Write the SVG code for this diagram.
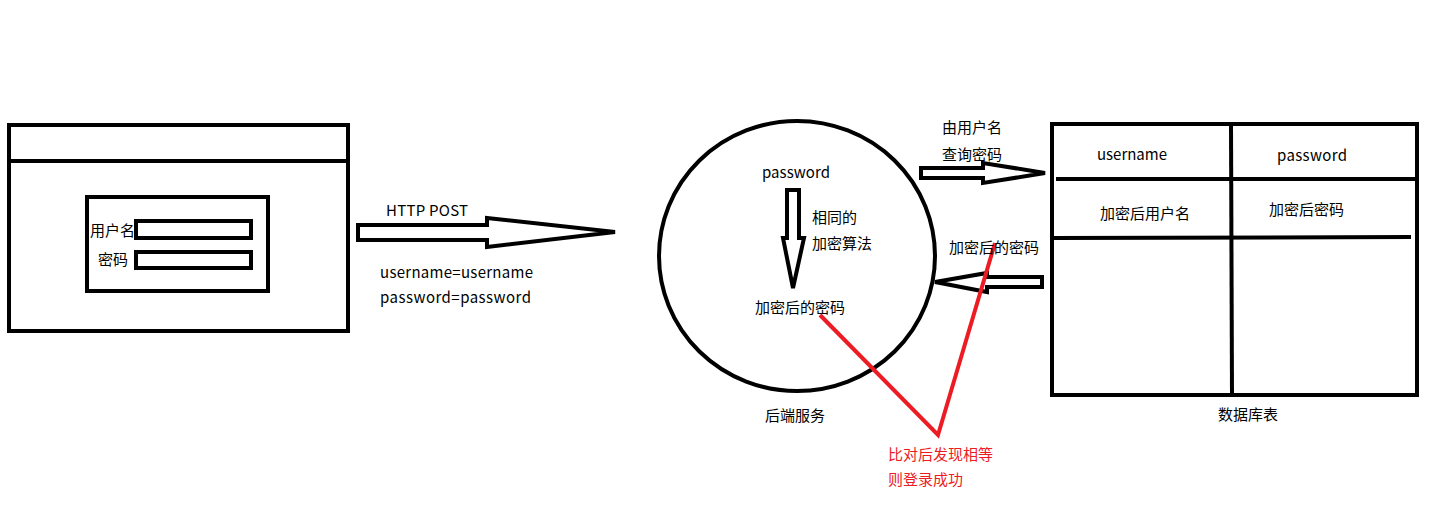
<svg xmlns="http://www.w3.org/2000/svg" width="1455" height="510" viewBox="0 0 1455 510">
<style>
.s{fill:none;stroke:#000;stroke-width:4}
.a{fill:#fff;stroke:#000;stroke-width:4;stroke-linejoin:miter}
.t{font-family:"Noto Sans CJK SC","Microsoft YaHei","Noto Sans",sans-serif;font-size:15px;fill:#000}
.r{fill:#ed1c24}
.rl{fill:none;stroke:#ed1c24;stroke-width:4;stroke-linejoin:miter}
</style>
<rect width="1455" height="510" fill="#fff"/>
<g id="login-window">
<rect class="s" x="9" y="125" width="339" height="206"/>
<line class="s" x1="9" y1="161" x2="348" y2="161"/>
<rect class="s" x="87" y="197" width="181" height="94"/>
<rect class="s" x="136" y="221" width="115" height="17"/>
<rect class="s" x="136" y="252" width="115" height="16"/>
<text class="t" x="90" y="236">用户名</text>
<text class="t" x="98" y="265">密码</text>
</g>
<g id="backend">
<ellipse class="s" cx="797" cy="256" rx="138" ry="135"/>
<text class="t" x="762" y="178" textLength="68">password</text>
<text class="t" x="812" y="223">相同的</text>
<text class="t" x="812" y="249">加密算法</text>
<text class="t" x="755" y="313">加密后的密码</text>
<text class="t" x="765" y="421">后端服务</text>
</g>
<g id="db-table">
<rect class="s" x="1052" y="124" width="365" height="271"/>
<line class="s" x1="1231" y1="124" x2="1232" y2="395"/>
<line class="s" x1="1056" y1="179" x2="1417" y2="179"/>
<line class="s" x1="1052" y1="238" x2="1411" y2="237"/>
<text class="t" x="1097" y="160" textLength="70">username</text>
<text class="t" x="1277" y="161" textLength="70">password</text>
<text class="t" x="1100" y="219">加密后用户名</text>
<text class="t" x="1269" y="215">加密后密码</text>
<text class="t" x="1218" y="420">数据库表</text>
</g>
<g id="connectors">
<polygon class="a" points="358,225 487,225 487,218 615,232 487,247 487,240 358,240"/>
<polygon class="a" points="787,190 799,190 799,238 804,238 793,288 783,238 787,238"/>
<polygon class="a" points="921,168 983,168 983,163 1045,173 983,183 983,178 921,178"/>
<polygon class="a" points="1042,277 987,277 987,273 935,282 987,292 987,287 1042,287"/>
<polyline class="rl" points="820,315 938,435 995,243"/>
</g>
<g id="labels">
<text class="t" x="386" y="216" textLength="82">HTTP POST</text>
<text class="t" x="380" y="278" textLength="153">username=username</text>
<text class="t" x="380" y="303" textLength="151">password=password</text>
<text class="t" x="942" y="133">由用户名</text>
<text class="t" x="942" y="160">查询密码</text>
<text class="t" x="949" y="253">加密后的密码</text>
<text class="t r" x="888" y="460">比对后发现相等</text>
<text class="t r" x="888" y="485">则登录成功</text>
</g>
</svg>
